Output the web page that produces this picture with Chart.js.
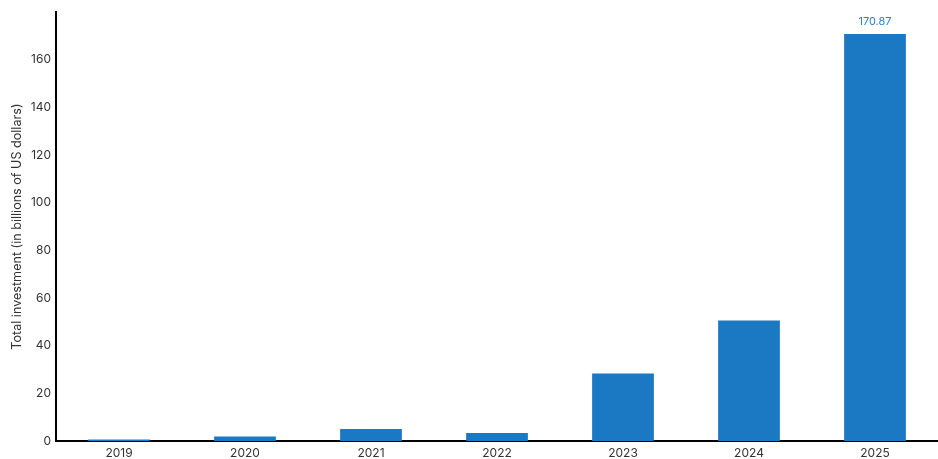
<!DOCTYPE html>
<html>
<head>
<meta charset="utf-8">
<script src="https://cdn.jsdelivr.net/npm/chart.js@4/dist/chart.umd.min.js"></script>
<style>
html,body{margin:0;padding:0;background:#fff;}
#wrap{width:938px;height:459px;position:relative;}
</style>
</head>
<body>
<div id="wrap"><canvas id="c" width="938" height="459"></canvas></div>
<script>
const categories = ["2019","2020","2021","2022","2023","2024","2025"];
const investment = [0.6, 1.9, 5.0, 3.4, 28.3, 50.6, 170.87];
const labelledValue = "170.87";
const yTicks = [0,20,40,60,80,100,120,140,160];

const barColor = "#1b78c2";
const textColor = "#333333";
const fontFamily = "Inter, 'Liberation Sans', Arial, sans-serif";

const valueLabel = {
  id: "valueLabel",
  afterDatasetsDraw(chart) {
    const meta = chart.getDatasetMeta(0);
    const ctx = chart.ctx;
    const i = investment.length - 1;
    const el = meta.data[i];
    ctx.save();
    ctx.fillStyle = "#3580c4";
    ctx.font = "11px " + fontFamily;
    ctx.textAlign = "center";
    ctx.textBaseline = "middle";
    ctx.fillText(labelledValue, el.x, el.y - 12);
    ctx.restore();
  }
};

new Chart(document.getElementById("c"), {
  type: "bar",
  data: {
    labels: categories,
    datasets: [{
      data: investment,
      backgroundColor: barColor,
      borderWidth: 0,
      categoryPercentage: 1.0,
      barPercentage: 0.49
    }]
  },
  options: {
    responsive: false,
    animation: false,
    devicePixelRatio: 1,
    layout: { padding: { top: 10, right: 0, bottom: 0, left: 0 } },
    plugins: { legend: { display: false }, tooltip: { enabled: false } },
    scales: {
      x: {
        grid: { display: false, drawTicks: false },
        border: { display: true, color: "#000", width: 2 },
        ticks: { color: textColor, font: { size: 12, family: fontFamily }, padding: 5 },
        afterFit(scale) { scale.height = 18; }
      },
      y: {
        min: 0,
        max: 180,
        grid: { display: false, drawTicks: false },
        border: { display: true, color: "#000", width: 2 },
        ticks: {
          stepSize: 20,
          color: textColor,
          font: { size: 12, family: fontFamily },
          padding: 5,
          callback: (v) => yTicks.includes(v) ? String(v) : ""
        },
        title: {
          display: true,
          text: "Total investment (in billions of US dollars)",
          color: textColor,
          font: { size: 12.6, family: fontFamily },
          padding: { top: 10, bottom: 0 }
        },
        afterFit(scale) { scale.width = 56; }
      }
    }
  },
  plugins: [valueLabel]
});
</script>
</body>
</html>
